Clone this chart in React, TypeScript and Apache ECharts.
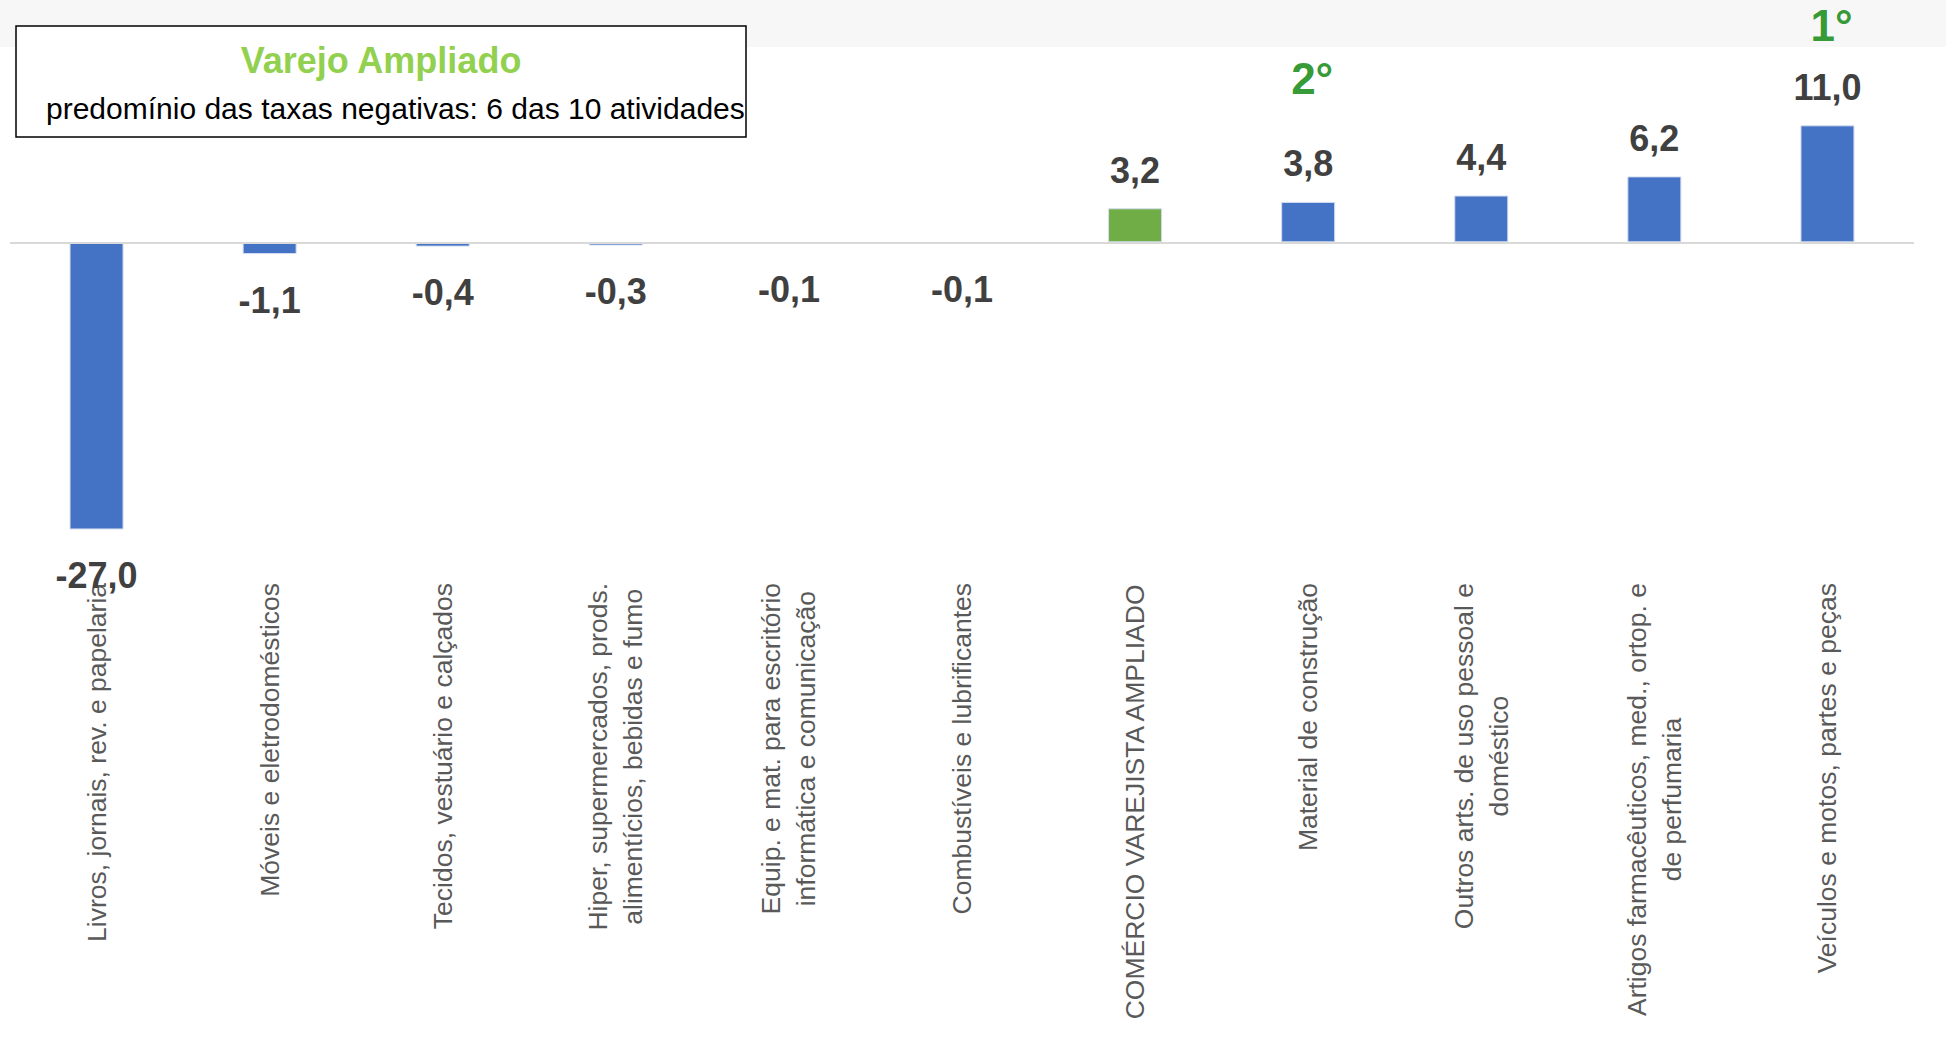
import React, { useEffect, useRef } from 'react';
import * as echarts from 'echarts';

const categories: string[] = [
  'Livros, jornais, rev. e papelaria',
  'Móveis e eletrodomésticos',
  'Tecidos, vestuário e calçados',
  'Hiper, supermercados, prods.\nalimentícios, bebidas e fumo',
  'Equip. e mat. para escritório\ninformática e comunicação',
  'Combustíveis e lubrificantes',
  'COMÉRCIO VAREJISTA AMPLIADO',
  'Material de construção',
  'Outros arts. de uso pessoal e\ndoméstico',
  'Artigos farmacêuticos, med., ortop. e\nde perfumaria',
  'Veículos e motos, partes e peças',
];

const values: number[] = [-27.0, -1.1, -0.4, -0.3, -0.1, -0.1, 3.2, 3.8, 4.4, 6.2, 11.0];

const highlightCategory = 'COMÉRCIO VAREJISTA AMPLIADO';

const rankCategories: string[] = ['Material de construção', 'Veículos e motos, partes e peças'];
const rankTexts: string[] = ['2°', '1°'];
const rankHeights: number[] = [15.4, 20.4];

const titleText = 'Varejo Ampliado';
const subtitleText = 'predomínio das taxas negativas: 6 das 10 atividades';

const FONT = "'Liberation Sans', Arial, sans-serif";

export default function App() {
  const ref = useRef<HTMLDivElement>(null);

  useEffect(() => {
    document.body.style.margin = '0';
    const chart = echarts.init(ref.current as HTMLDivElement, null, { renderer: 'svg' });
    const fmt = (v: number) => v.toFixed(1).replace('.', ',');

    chart.setOption({
      animation: false,
      backgroundColor: '#ffffff',
      grid: { left: 10, right: 32, top: 19, height: 553, containLabel: false },
      xAxis: {
        type: 'category',
        data: categories,
        position: 'bottom',
        axisLine: { show: false, onZero: false },
        axisTick: { show: false },
        splitLine: { show: false },
        axisLabel: {
          interval: 0,
          rotate: 90,
          margin: 11,
          color: '#595959',
          fontFamily: FONT,
          fontSize: 26.5,
          lineHeight: 35,
          formatter: (v: string) =>
            v
              .split('\n')
              .map((l) => `{c|${l}}`)
              .join('\n'),
          rich: {
            c: {
              align: 'center',
              color: '#595959',
              fontFamily: FONT,
              fontSize: 26.5,
              lineHeight: 35,
            },
          },
        },
      },
      yAxis: {
        type: 'value',
        min: -31,
        max: 21,
        show: false,
        splitLine: { show: false },
      },
      graphic: [
        {
          type: 'rect',
          z: -10,
          shape: { x: 0, y: 0, width: 1946, height: 47 },
          style: { fill: '#f7f7f7' },
          silent: true,
        },
        {
          type: 'rect',
          z: 10,
          shape: { x: 16, y: 26, width: 730, height: 111 },
          style: { fill: '#ffffff', stroke: '#000000', lineWidth: 1.5 },
          silent: true,
        },
        {
          type: 'text',
          z: 11,
          x: 381,
          y: 60,
          style: {
            text: titleText,
            fill: '#92d050',
            font: `bold 36px ${FONT}`,
            textAlign: 'center',
            textVerticalAlign: 'middle',
          },
          silent: true,
        },
        {
          type: 'text',
          z: 11,
          x: 46,
          y: 108,
          style: {
            text: subtitleText,
            fill: '#000000',
            font: `30px ${FONT}`,
            textAlign: 'left',
            textVerticalAlign: 'middle',
          },
          silent: true,
        },
      ],
      series: [
        {
          type: 'bar',
          barWidth: 54,
          data: values.map((v, i) => ({
            value: v,
            itemStyle: {
              color: categories[i] === highlightCategory ? '#70ad47' : '#4472c4',
            },
            label: {
              position: v >= 0 ? 'top' : 'bottom',
              distance: v >= 0 ? 20 : 28,
            },
          })),
          itemStyle: { borderColor: '#d3dcee', borderWidth: 1 },
          label: {
            show: true,
            formatter: (p: any) => fmt(p.value),
            fontFamily: FONT,
            fontSize: 36,
            fontWeight: 'bold',
            color: '#404040',
          },
          markLine: {
            silent: true,
            symbol: 'none',
            label: { show: false },
            lineStyle: { color: '#d9d9d9', width: 2, type: 'solid' },
            data: [{ yAxis: 0 }],
          },
          z: 3,
        },
        {
          type: 'scatter',
          symbolSize: 0,
          silent: true,
          data: rankCategories.map((c, i) => [c, rankHeights[i]]),
          label: {
            show: true,
            position: 'inside',
            offset: [4, 0],
            formatter: (p: any) => rankTexts[p.dataIndex],
            fontFamily: FONT,
            fontSize: 44,
            fontWeight: 'bold',
            color: '#008000',
          },
        },
      ],
    });

    return () => {
      chart.dispose();
    };
  }, []);

  return <div ref={ref} style={{ width: 1946, height: 1037 }} />;
}
